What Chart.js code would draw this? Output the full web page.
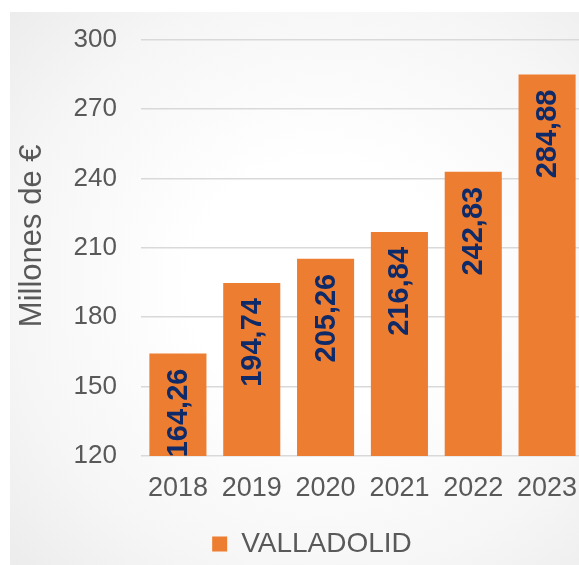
<!DOCTYPE html>
<html>
<head>
<meta charset="utf-8">
<script src="https://cdn.jsdelivr.net/npm/chart.js@4.4.1/dist/chart.umd.min.js"></script>
<style>
  html, body { margin: 0; padding: 0; background: #ffffff; overflow: hidden; }
  #panel {
    position: absolute; left: 10px; top: 12px; width: 600px; height: 570px;
    background: radial-gradient(ellipse at 52% 48%, #ffffff 30%, #f6f6f6 70%, #ebebeb 100%);
  }
  #myChart { position: absolute; left: 0; top: 0; }
</style>
</head>
<body>
<div id="panel"></div>
<canvas id="myChart" width="584" height="568"></canvas>
<script>
// Datos
const years = ['2018', '2019', '2020', '2021', '2022', '2023'];
const valladolid = [164.26, 194.74, 205.26, 216.84, 242.83, 284.88];
const yTicks = [120, 150, 180, 210, 240, 270, 300];
const seriesName = 'VALLADOLID';
const yTitle = 'Millones de €';

const fontFamily = "'Liberation Sans', Arial, sans-serif";
const textGray = '#595959';

// etiquetas de valor giradas dentro de la barra
const barLabels = {
    id: 'barLabels',
    afterDatasetsDraw(chart) {
        const ctx = chart.ctx;
        const meta = chart.getDatasetMeta(0);
        ctx.save();
        ctx.font = 'bold 29px ' + fontFamily;
        ctx.fillStyle = '#0E2A68';
        ctx.textAlign = 'right';
        ctx.textBaseline = 'middle';
        meta.data.forEach((bar, i) => {
            const txt = valladolid[i].toFixed(2).replace('.', ',');
            ctx.save();
            ctx.translate(bar.x + 1, bar.y + 15);
            ctx.rotate(-Math.PI / 2);
            ctx.fillText(txt, 0, 0);
            ctx.restore();
        });
        ctx.restore();
    }
};

// título del eje Y
const axisTitle = {
    id: 'axisTitle',
    afterDraw(chart) {
        const ctx = chart.ctx;
        const area = chart.chartArea;
        ctx.save();
        ctx.font = '31px ' + fontFamily;
        ctx.fillStyle = textGray;
        ctx.textAlign = 'center';
        ctx.textBaseline = 'middle';
        ctx.translate(area.left - 109, (area.top + area.bottom) / 2 - 12);
        ctx.rotate(-Math.PI / 2);
        ctx.fillText(yTitle, 0, 0);
        ctx.restore();
    }
};

new Chart(document.getElementById('myChart'), {
    type: 'bar',
    data: {
        labels: years,
        datasets: [{
            label: seriesName,
            data: valladolid,
            backgroundColor: '#ED7D31',
            borderWidth: 0,
            categoryPercentage: 1,
            barPercentage: 0.773
        }]
    },
    options: {
        responsive: false,
        animation: false,
        layout: { padding: { left: 40, top: 37, right: 0, bottom: 0 } },
        plugins: {
            legend: {
                position: 'bottom',
                labels: {
                    color: textGray,
                    font: { family: fontFamily, size: 28 },
                    boxWidth: 15,
                    boxHeight: 15,
                    padding: 10
                }
            },
            tooltip: { enabled: false }
        },
        scales: {
            x: {
                grid: { display: false, drawTicks: false },
                border: { display: false },
                ticks: { color: textGray, font: { family: fontFamily, size: 27, lineHeight: 2.4 }, padding: 0 },
                afterFit(scale) { scale.height = 64; }
            },
            y: {
                min: yTicks[0],
                max: yTicks[yTicks.length - 1],
                afterBuildTicks(scale) { scale.ticks = yTicks.map(v => ({ value: v })); },
                grid: { color: '#D9D9D9', lineWidth: 1.5, drawTicks: false },
                border: { display: false },
                ticks: { color: textGray, font: { family: fontFamily, size: 26 }, padding: 24 },
                afterFit(scale) { scale.width = 101; }
            }
        }
    },
    plugins: [barLabels, axisTitle]
});
</script>
</body>
</html>
